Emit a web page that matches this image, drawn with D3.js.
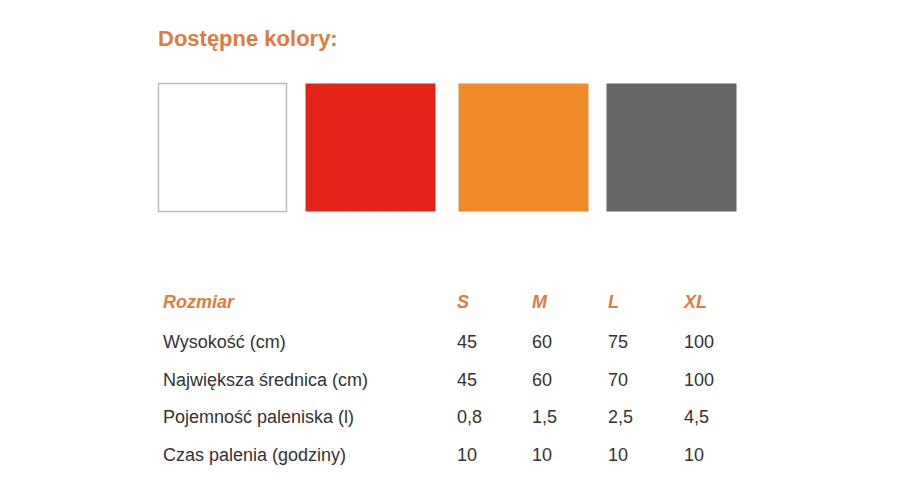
<!DOCTYPE html><html><head><meta charset="utf-8"><script src="https://cdn.jsdelivr.net/npm/d3@7"></script>
<style>body{margin:0;background:#fff}</style></head><body><svg id="c" width="900" height="500"></svg>
<script>
const title = "Dostępne kolory:";
const swatchColors = ["#ffffff","#e32219","#ee8a2a","#666666"];
const headers = ["Rozmiar","S","M","L","XL"];
const rowLabels = ["Wysokość (cm)","Największa średnica (cm)","Pojemność paleniska (l)","Czas palenia (godziny)"];
const valS = ["45","45","0,8","10"];
const valM = ["60","60","1,5","10"];
const valL = ["75","70","2,5","10"];
const valXL = ["100","100","4,5","10"];

const svg = d3.select("#c");
const font = "Liberation Sans, Arial, sans-serif";
const orange = "#e07b3e";
svg.append("text").attr("x",158).attr("y",46).text(title)
  .attr("font-family",font).attr("font-weight","bold").attr("font-size",22).attr("fill",orange);

const sx = d3.scaleOrdinal().domain(d3.range(4)).range([158,305,458,606]);
svg.selectAll("rect.sw").data(swatchColors).join("rect").attr("class","sw")
  .attr("x",(d,i)=>sx(i)+0.5).attr("y",83.5).attr("width",(d,i)=>i==0?128:130).attr("height",128)
  .attr("fill",d=>d).attr("stroke",(d,i)=>i==0?"#bbb":"none").attr("stroke-width",1.5);

const cx = d3.scaleOrdinal().domain(d3.range(5)).range([163,457,532,608,684]);
const ry = d3.scaleLinear().domain([0,1]).range([308,348]);
const rowY = [308,348,386,423,461];
svg.selectAll("text.h").data(headers).join("text").attr("class","h")
  .attr("x",(d,i)=>cx(i)).attr("y",rowY[0]).text(d=>d)
  .attr("font-family",font).attr("font-weight","bold").attr("font-style","italic").attr("font-size",18).attr("fill",orange);
const rows = rowLabels.map((l,i)=>[l,valS[i],valM[i],valL[i],valXL[i]]);
rows.forEach((r,ri)=>{
  svg.selectAll("text.r"+ri).data(r).join("text").attr("class","r"+ri)
    .attr("x",(d,i)=>cx(i)).attr("y",rowY[ri+1]).text(d=>d)
    .attr("font-family",font).attr("font-size",18).attr("fill","#333");
});
</script></body></html>
